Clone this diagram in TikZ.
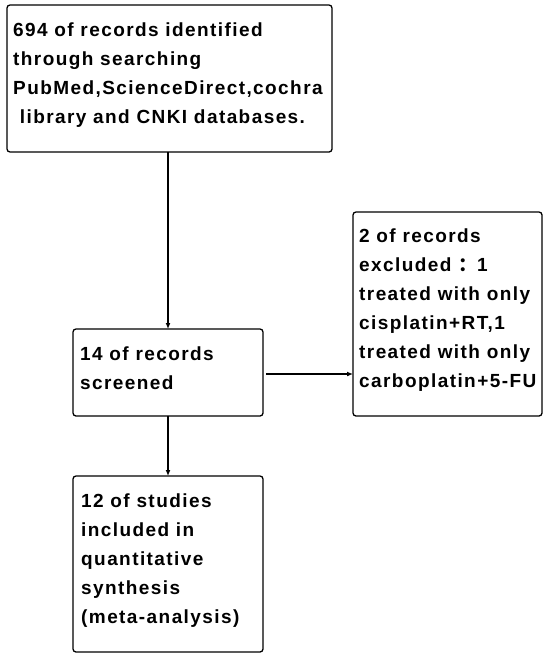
\documentclass[tikz,border=0pt]{standalone}
\usepackage{fontspec}
\setmainfont{Liberation Sans}
\newfontfamily\boxfont[LetterSpace=7.5]{Liberation Sans}
\newfontfamily\cjk{Noto Sans CJK SC}
\usetikzlibrary{arrows.meta,calc}
\begin{document}
\begin{tikzpicture}[x=1pt,y=-1pt,
  box/.style={draw,line width=1.3pt,rounded corners=3pt,inner sep=0pt,outer sep=0pt},
  txt/.style={anchor=base west,align=left,inner sep=0pt,font=\fontsize{19}{29}\boxfont\bfseries},
  arr/.style={line width=1.3pt,-{Latex[length=6pt,width=5pt]}}]
\useasboundingbox[fill=white] (0,0) rectangle (544,656);
\node[box,minimum width=325pt,minimum height=147pt] (b1) at (169.5,78.5) {};
\node[box,minimum width=190pt,minimum height=87pt] (b2) at (168,372.5) {};
\node[box,minimum width=189pt,minimum height=204pt] (b3) at (447.5,314) {};
\node[box,minimum width=190pt,minimum height=176pt] (b4) at (168,564) {};
\node[txt] (t1) at ($(b1.north west)+(6,31+87)$) {694 of records identified\\through searching\\PubMed,ScienceDirect,cochra\\\ library and CNKI databases.};
\node[txt] (t2) at ($(b2.north west)+(7,31+29)$) {14 of records\\screened};
\node[txt] (t3) at ($(b3.north west)+(6,30+145)$) {2 of records\\excluded {\cjk ：}1\\treated with only\\cisplatin+RT,1\\treated with only\\carboplatin+5-FU};
\node[txt] (t4) at ($(b4.north west)+(8,31+116)$) {12 of studies\\included in\\quantitative\\synthesis\\(meta-analysis)};
\draw[arr] (b1.south -| b2.north) -- (b2.north);
\draw[arr] ($(b2.east)+(3,1.5)$) -- ($(b2.east -| b3.west)+(0,1.5)$);
\draw[arr] (b2.south) -- (b4.north);
\end{tikzpicture}
\end{document}
